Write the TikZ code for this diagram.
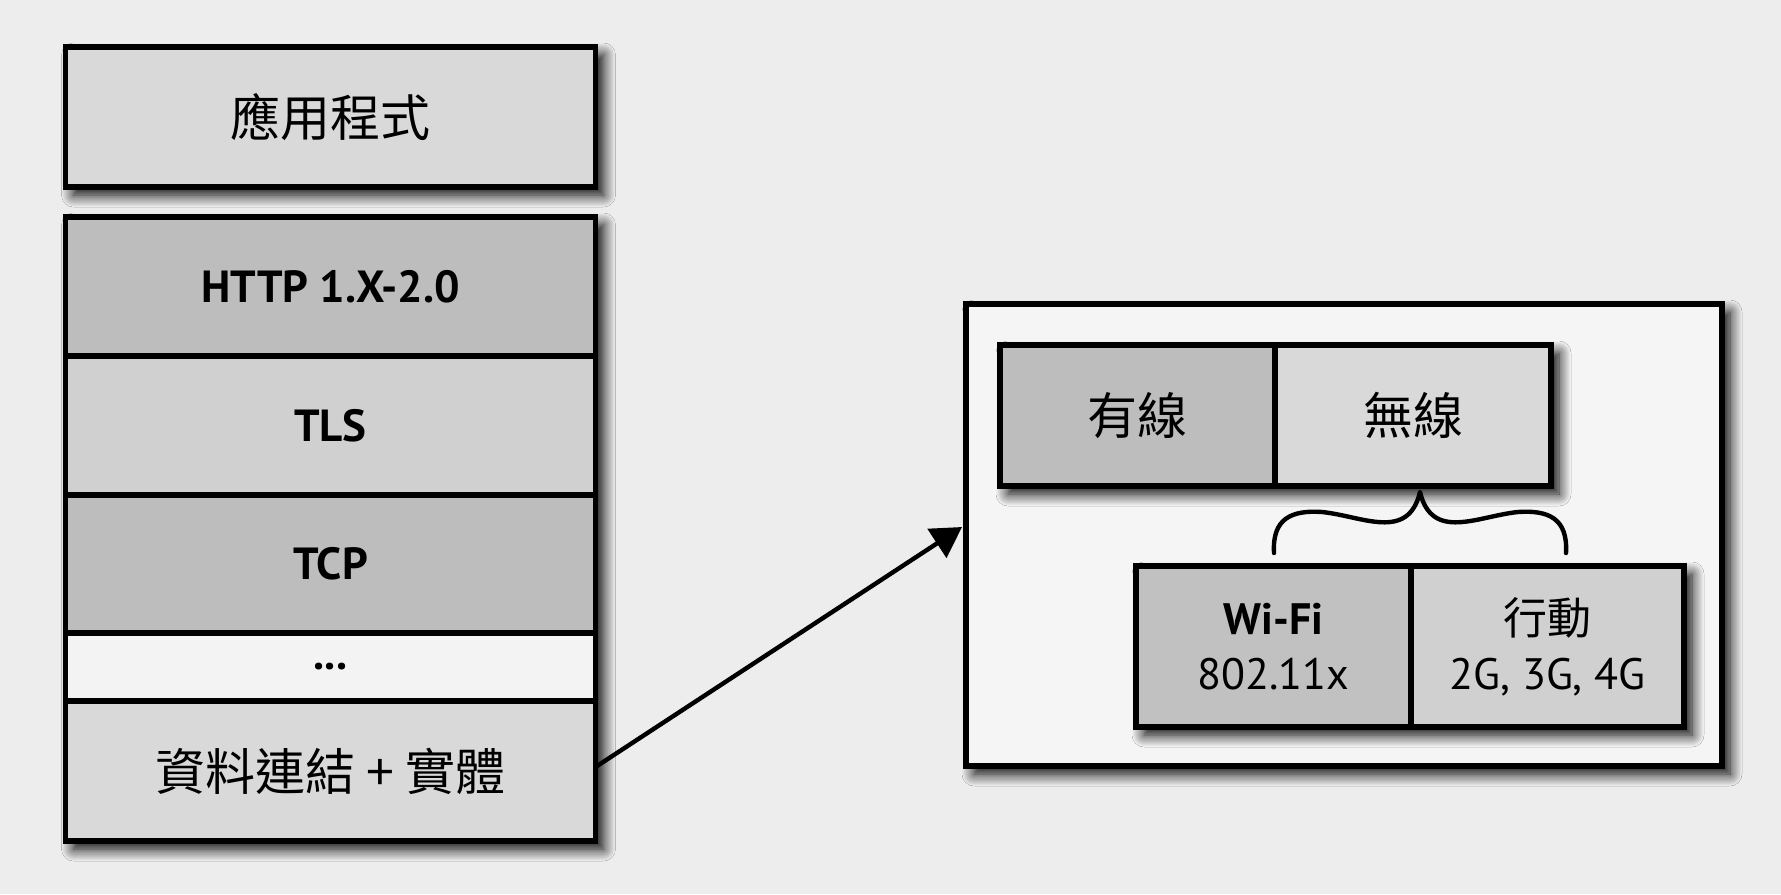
\documentclass[tikz,border=0pt]{standalone}
\usepackage{fontspec}
\setmainfont{PT Sans}
\newfontfamily\cjk{Noto Sans CJK TC}
\usetikzlibrary{arrows.meta,shadows.blur}
\definecolor{pagebg}{HTML}{EDEDED}
\definecolor{inbg}{HTML}{F5F5F5}
\definecolor{lightfill}{HTML}{D9D9D9}
\definecolor{midfill}{HTML}{D0D0D0}
\definecolor{darkfill}{HTML}{BDBDBD}
\definecolor{palefill}{HTML}{F3F3F3}
\tikzset{
  cell/.style={draw=black, line width=2.6pt, inner sep=0pt, outer sep=0pt},
  shadowed/.style={blur shadow={shadow xshift=4pt, shadow yshift=-4pt, shadow blur radius=6pt, shadow blur steps=12, shadow opacity=100}},
  cjktext/.style={font=\cjk\fontsize{25}{30}\selectfont},
  boldtext/.style={font=\bfseries\fontsize{22.5}{27}\selectfont},
  plaintext/.style={font=\fontsize{22}{27.5}\selectfont, align=center},
  conn/.style={line width=2.2pt, -{Triangle[length=15pt,width=17pt]}},
  bracestyle/.style={line width=2.2pt, line cap=round, line join=round}
}
\begin{document}
\begin{tikzpicture}[x=0.5pt,y=-0.5pt]
\fill[pagebg] (0,0) rectangle (1781,894);
\useasboundingbox (0,0) rectangle (1781,894);

% left: application
\node[cell, shadowed, fill=lightfill, minimum width=265pt, minimum height=70pt, cjktext] (app) at (330.5,117) {應用程式};

% left: stack
\node[cell, shadowed, fill=lightfill, minimum width=265pt, minimum height=312pt] (stack) at (330.5,529) {};
\node[cell, fill=darkfill, minimum width=265pt, minimum height=69.5pt, boldtext] (http) at (330.5,286.5) {HTTP 1.X-2.0};
\node[cell, fill=midfill, minimum width=265pt, minimum height=69.5pt, boldtext] (tls) at (330.5,425.5) {TLS};
\node[cell, fill=darkfill, minimum width=265pt, minimum height=69pt, boldtext] (tcp) at (330.5,564) {TCP};
\node[cell, fill=palefill, minimum width=265pt, minimum height=34pt, boldtext] (dots) at (330.5,667) {...};
\node[cell, fill=lightfill, minimum width=265pt, minimum height=70pt, cjktext] (data) at (330.5,771) {資料連結 + 實體};

% right: outer box
\node[cell, shadowed, fill=inbg, minimum width=378pt, minimum height=231pt] (outer) at (1344,535) {};

% top row
\node[cell, shadowed, fill=lightfill, minimum width=275.5pt, minimum height=70.5pt] (toprow) at (1275.5,415.5) {};
\node[cell, fill=darkfill, minimum width=137.5pt, minimum height=70.5pt, cjktext] (wired) at (1137.5,415.5) {有線};
\node[cell, fill=lightfill, minimum width=138pt, minimum height=70.5pt, cjktext] (wireless) at (1413,415.5) {無線};

% bottom row
\node[cell, shadowed, fill=midfill, minimum width=274pt, minimum height=80.5pt] (botrow) at (1410,646.5) {};
\node[cell, fill=darkfill!80!midfill, minimum width=137.5pt, minimum height=80.5pt, plaintext] (wifi) at (1273.5,646.5) {\textbf{Wi-Fi}\\802.11x};
\node[cell, fill=midfill, minimum width=136.5pt, minimum height=80.5pt, plaintext] (mobile) at (1547.5,646.5) {{\cjk 行動}\\2G, 3G, 4G};

% brace
\draw[bracestyle] (1274,553) .. controls (1272,518) and (1292,510) .. (1322,512)
  .. controls (1362,516) and (1408,542) .. (1420,492)
  .. controls (1432,542) and (1478,516) .. (1518,512)
  .. controls (1548,510) and (1568,518) .. (1566,553);

% arrow
\coordinate (tip) at ([xshift=-2pt,yshift=4pt]outer.west);
\draw[conn] ([yshift=2pt]data.east) -- (tip);
\end{tikzpicture}
\end{document}
